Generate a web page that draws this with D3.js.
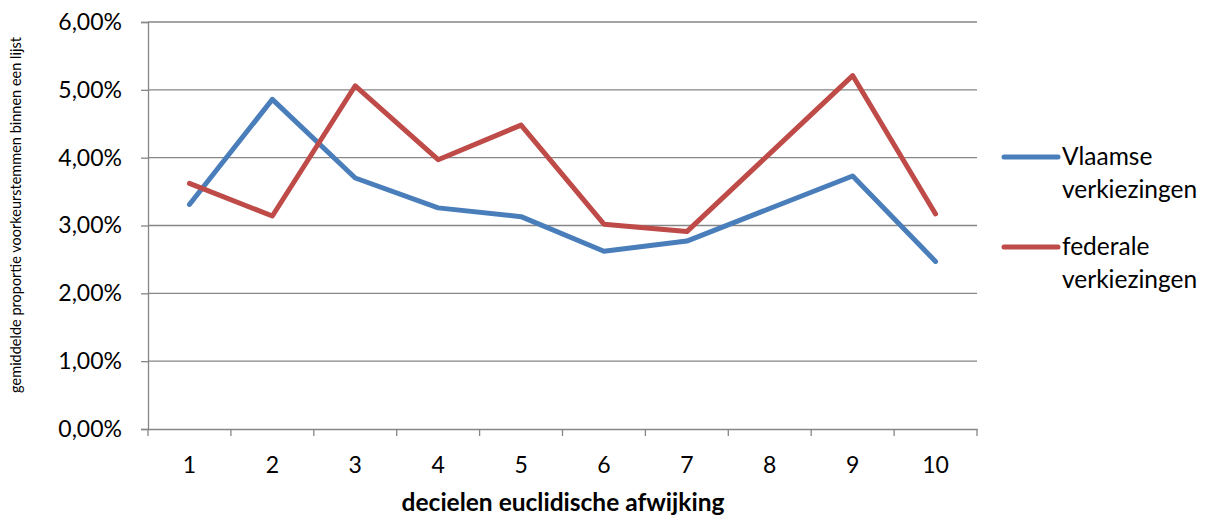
<!DOCTYPE html>
<html><head><meta charset="utf-8">
<script src="https://cdn.jsdelivr.net/npm/d3@7/dist/d3.min.js"></script>
<style>body{margin:0;background:#fff}svg{display:block}text{font-family:Lato,"Open Sans",sans-serif;fill:#000}</style>
</head><body><svg id="c" width="1216" height="517"></svg>
<script>
const categories = ["1","2","3","4","5","6","7","8","9","10"];
const vlaamse = [3.31, 4.86, 3.70, 3.26, 3.13, 2.62, 2.77, 3.25, 3.73, 2.47];
const federale = [3.62, 3.14, 5.06, 3.97, 4.48, 3.02, 2.91, 4.06, 5.21, 3.17];
const yTicks = [0,1,2,3,4,5,6];
const seriesNames = [["Vlaamse","verkiezingen"],["federale","verkiezingen"]];
const colors = ["#4A7EBB","#BE4B48"];

const svg = d3.select("#c");
const L=148, R=977, T=22, B=429;
const x = d3.scaleBand().domain(categories).range([L,R]);
const y = d3.scaleLinear().domain([0,6]).range([B,T]);
const grid="#868686";

// gridlines
svg.append("g").selectAll("line").data(yTicks.filter(d=>d>0)).join("line")
  .attr("x1",L).attr("x2",R).attr("y1",d=>y(d)).attr("y2",d=>y(d))
  .attr("stroke",grid).attr("stroke-width",1.3);

// y axis
const ya = svg.append("g").attr("transform",`translate(${L},0)`)
  .call(d3.axisLeft(y).tickValues(yTicks).tickSize(7).tickPadding(19)
    .tickFormat(d=>d3.format(".2f")(d).replace(".",",")+"%"));
ya.select(".domain").attr("stroke",grid).attr("stroke-width",1.3);
ya.selectAll(".tick line").attr("stroke",grid).attr("stroke-width",1.3);
ya.selectAll(".tick text").attr("font-size",23).attr("font-family","Lato");

// x axis
const xa = svg.append("g").attr("transform",`translate(0,${B})`)
  .call(d3.axisBottom(x).tickSize(0).tickPadding(28));
xa.select(".domain").attr("stroke",grid).attr("stroke-width",1.3);
xa.selectAll(".tick text").attr("font-size",23).attr("font-family","Lato");
// tick marks at band boundaries
xa.append("g").selectAll("line").data(d3.range(categories.length+1)).join("line")
  .attr("x1",i=>L+i*x.step()).attr("x2",i=>L+i*x.step()).attr("y1",0).attr("y2",7)
  .attr("stroke",grid).attr("stroke-width",1.3);

// lines
const line = d3.line().x((d,i)=>x(categories[i])+x.bandwidth()/2).y(d=>y(d));
[vlaamse,federale].forEach((s,k)=>{
  svg.append("path").datum(s).attr("d",line).attr("fill","none")
    .attr("stroke",colors[k]).attr("stroke-width",5).attr("stroke-linejoin","round").attr("stroke-linecap","round");
});

// legend
const lg = svg.append("g");
[157,247].forEach((ly,k)=>{
  lg.append("line").attr("x1",1004).attr("x2",1058).attr("y1",ly).attr("y2",ly)
    .attr("stroke",colors[k]).attr("stroke-width",5).attr("stroke-linecap","round");
  seriesNames[k].forEach((t,j)=>{
    lg.append("text").attr("x",1062).attr("y",ly+8+j*33).attr("font-size",24.5).text(t);
  });
});

// axis titles
svg.append("text").attr("x",563).attr("y",511).attr("text-anchor","middle")
  .attr("font-size",24.5).attr("font-weight","bold").text("decielen euclidische afwijking");
svg.append("text").attr("transform","translate(21,215) rotate(-90)").attr("text-anchor","middle")
  .attr("font-size",14.5).text("gemiddelde proportie voorkeurstemmen binnen een lijst");
</script></body></html>
